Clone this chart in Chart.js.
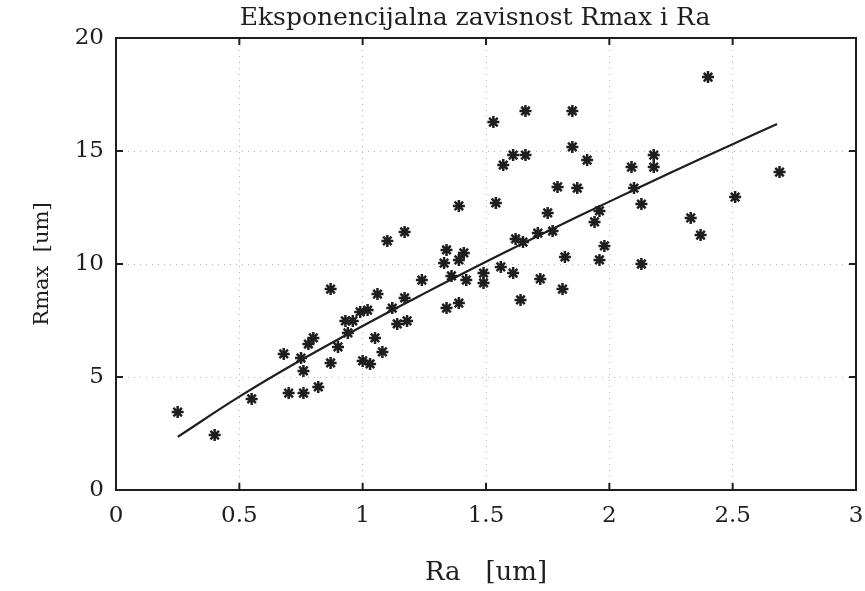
<!DOCTYPE html>
<html>
<head>
<meta charset="utf-8">
<script src="https://cdn.jsdelivr.net/npm/chart.js@4"></script>
<style>
  body { margin: 0; background: #fff; }
  .wrap { width: 865px; height: 591px; }
</style>
</head>
<body>
<div class="wrap"><canvas class="chart"></canvas></div>
<script>
// measured points (Ra, Rmax)
const raValues = [
  0.25, 0.40, 0.55, 0.68, 0.70, 0.75, 0.76, 0.76, 0.78, 0.80,
  0.82, 0.87, 0.87, 0.90, 0.93, 0.96, 0.94, 0.99, 1.02, 1.00,
  1.03, 1.05, 1.08, 1.06, 1.12, 1.14, 1.18, 1.17, 1.17, 1.10,
  1.24, 1.33, 1.34, 1.34, 1.36, 1.39, 1.39, 1.39, 1.41, 1.42,
  1.49, 1.49, 1.53, 1.54, 1.56, 1.57, 1.61, 1.61, 1.62, 1.64,
  1.65, 1.66, 1.66, 1.71, 1.72, 1.75, 1.77, 1.79, 1.81, 1.82,
  1.85, 1.85, 1.87, 1.91, 1.94, 1.96, 1.96, 1.98, 2.09, 2.10,
  2.13, 2.13, 2.18, 2.18, 2.33, 2.37, 2.40, 2.51, 2.69
];
const rmaxValues = [
  3.45, 2.43, 4.03, 6.02, 4.29, 5.84, 5.27, 4.29, 6.46, 6.73,
  4.56, 8.89, 5.62, 6.33, 7.48, 7.48, 6.95, 7.88, 7.96, 5.71,
  5.58, 6.73, 6.11, 8.67, 8.05, 7.35, 7.48, 8.50, 11.42, 11.02,
  9.29, 10.04, 8.05, 10.62, 9.47, 12.57, 10.18, 8.27, 10.49, 9.29,
  9.60, 9.16, 16.28, 12.70, 9.87, 14.38, 14.82, 9.60, 11.11, 8.41,
  10.97, 14.82, 16.77, 11.37, 9.34, 12.26, 11.46, 13.41, 8.89, 10.31,
  15.18, 16.77, 13.36, 14.60, 11.86, 12.35, 10.18, 10.80, 14.29, 13.36,
  12.65, 10.00, 14.82, 14.29, 12.04, 11.28, 18.27, 12.96, 14.07
];

// fitted curve
const fitRa   = [0.25, 0.5, 0.75, 1.0, 1.25, 1.5, 1.75, 2.0, 2.25, 2.5, 2.68];
const fitRmax = [2.35, 4.13, 5.75, 7.26, 8.70, 10.10, 11.45, 12.76, 14.05, 15.30, 16.2];

const xTicks = [0, 0.5, 1, 1.5, 2, 2.5, 3];
const yTicks = [0, 5, 10, 15, 20];

const ink = '#1e1e1e';
const serif = "'DejaVu Serif', serif";

const frame = {
  id: 'frame',
  afterLayout(chart) {
    const t = chart.titleBlock;
    if (t) { t.left = 94; t.right = 856; t.width = t.right - t.left; }
  },
  afterDraw(chart) {
    const {ctx, chartArea: a, scales} = chart;
    ctx.save();
    ctx.strokeStyle = ink;
    ctx.lineWidth = 2;
    ctx.strokeRect(a.left, a.top, a.right - a.left, a.bottom - a.top);
    ctx.beginPath();
    xTicks.forEach(v => {
      const px = scales.x.getPixelForValue(v);
      ctx.moveTo(px, a.bottom); ctx.lineTo(px, a.bottom - 7);
      ctx.moveTo(px, a.top); ctx.lineTo(px, a.top + 7);
    });
    yTicks.forEach(v => {
      const py = scales.y.getPixelForValue(v);
      ctx.moveTo(a.left, py); ctx.lineTo(a.left + 7, py);
      ctx.moveTo(a.right, py); ctx.lineTo(a.right - 7, py);
    });
    ctx.stroke();
    ctx.restore();
  }
};

const data = {
  datasets: [{
    type: 'scatter',
    label: 'Rmax',
    data: raValues.map((x, i) => ({x: x, y: rmaxValues[i]})),
    pointStyle: 'star',
    radius: 6,
    borderWidth: 2.5,
    borderColor: ink,
    backgroundColor: ink,
  }, {
    type: 'line',
    label: 'fit',
    data: fitRa.map((x, i) => ({x: x, y: fitRmax[i]})),
    borderColor: ink,
    borderWidth: 2.2,
    pointRadius: 0,
    tension: 0.4,
    fill: false,
  }]
};

const config = {
  type: 'scatter',
  data: data,
  options: {
    responsive: true,
    maintainAspectRatio: false,
    animation: false,
    layout: { padding: { top: 0, right: 9, left: 0, bottom: 2 } },
    plugins: {
      legend: { display: false },
      tooltip: { enabled: false },
      title: {
        display: true,
        text: 'Eksponencijalna zavisnost Rmax i Ra',
        color: ink,
        font: { family: serif, size: 25, weight: 'normal' },
        padding: { top: 3, bottom: 5 },
      }
    },
    scales: {
      x: {
        type: 'linear',
        min: 0, max: 3,
        afterBuildTicks: s => { s.ticks = xTicks.map(v => ({value: v})); },
        afterFit: s => { s.height = 99; s.paddingLeft = 0; s.paddingRight = 0; },
        grid: { color: 'rgba(0,0,0,0.3)', drawTicks: false },
        border: { display: false, dash: [1, 5] },
        ticks: {
          color: ink, padding: 12, font: { family: serif, size: 23 },
          callback: v => String(v)
        },
        title: {
          display: true, text: 'Ra   [um]', color: ink,
          font: { family: serif, size: 26 }, padding: { top: 0, bottom: 0 }
        }
      },
      y: {
        min: 0, max: 20,
        afterBuildTicks: s => { s.ticks = yTicks.map(v => ({value: v})); },
        afterFit: s => { s.width = 116; },
        grid: { color: 'rgba(0,0,0,0.3)', drawTicks: false },
        border: { display: false, dash: [1, 5] },
        ticks: { color: ink, padding: 12, font: { family: serif, size: 23 } },
        title: {
          display: true, text: 'Rmax  [um]', color: ink,
          font: { family: serif, size: 21 }, padding: { top: 30, bottom: 0 }
        }
      }
    }
  },
  plugins: [frame]
};

const myChart = new Chart(document.querySelector('.chart'), config);
</script>
</body>
</html>
